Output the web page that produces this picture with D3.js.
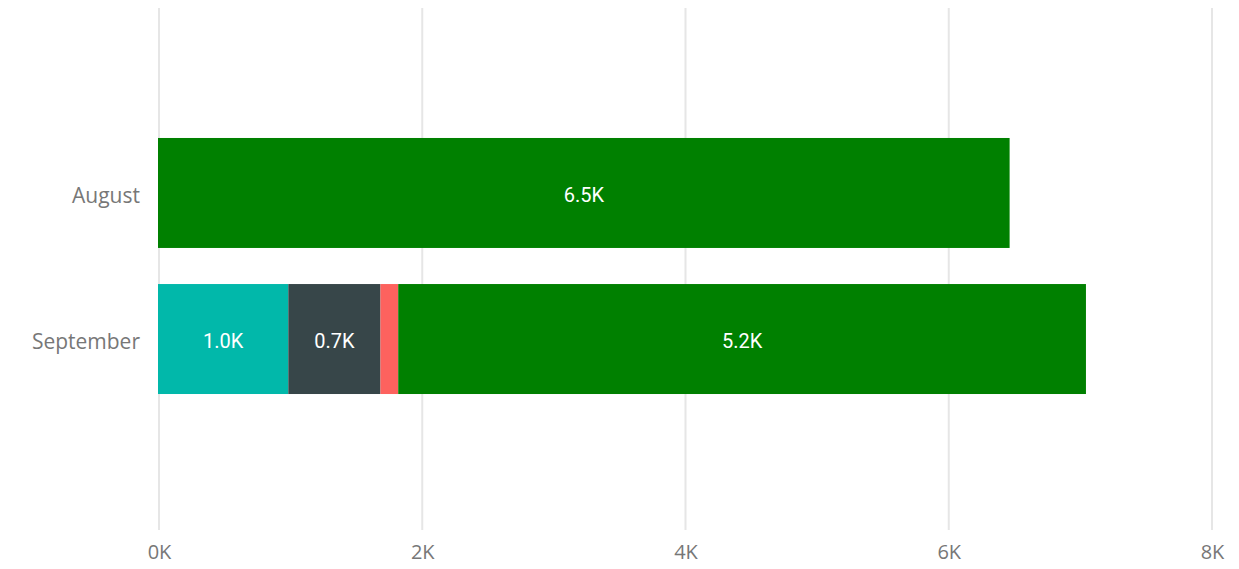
<!DOCTYPE html>
<meta charset="utf-8">
<head>
<style>
body { margin: 0; background: #fff; }
.tick text { font-family: "Open Sans", "Segoe UI", sans-serif; }
</style>
</head>
<script src="https://d3js.org/d3.v7.min.js"></script>
<div id="chart"></div>
<script>
// data
var months = ["August", "September"];
var seriesNames = ["Teal", "Slate", "Coral", "Green"];
var seriesColors = ["#01B8AA", "#374649", "#FD625E", "#008000"];
// values per series, same order as months
var teal  = [0, 0.99];
var slate = [0, 0.70];
var coral = [0, 0.135];
var green = [6.47, 5.225];
var xTicks = [0, 2, 4, 6, 8];

var W = 1239, H = 569;

var svg = d3.select("#chart").append("svg")
  .attr("width", W)
  .attr("height", H);

var x = d3.scaleLinear().domain([0, 8]).range([159, 1212]);
var y = d3.scaleBand().domain(months).range([8, 524])
  .paddingInner(0.247).paddingOuter(0.89);

// gridlines
svg.append("g").selectAll("line")
  .data(xTicks)
  .enter().append("line")
    .attr("x1", function(d) { return x(d); })
    .attr("x2", function(d) { return x(d); })
    .attr("y1", 8)
    .attr("y2", 530)
    .attr("stroke", "#e6e6e6")
    .attr("stroke-width", 2);

// x axis labels
var xAxis = svg.append("g")
  .attr("transform", "translate(0,542)")
  .call(d3.axisBottom(x).tickValues(xTicks).tickSize(0).tickFormat(function(d) { return d + "K"; }));
xAxis.select(".domain").remove();
xAxis.selectAll("text")
  .attr("fill", "#777")
  .style("font-size", "20px");

// y axis labels
var yAxis = svg.append("g")
  .attr("transform", "translate(150,3)")
  .call(d3.axisLeft(y).tickSize(0).tickPadding(10));
yAxis.select(".domain").remove();
yAxis.selectAll("text")
  .attr("fill", "#777")
  .attr("dy", "0.35em")
  .style("font-size", "21px");

// stacked bars
var table = months.map(function(m, i) {
  return { month: m, Teal: teal[i], Slate: slate[i], Coral: coral[i], Green: green[i] };
});
var stack = d3.stack().keys(seriesNames)(table);

var layers = svg.append("g").selectAll("g")
  .data(stack)
  .enter().append("g")
    .attr("fill", function(d, i) { return seriesColors[i]; });

layers.selectAll("rect")
  .data(function(d) { return d; })
  .enter().append("rect")
    .attr("x", function(d) { return x(d[0]) - 1; })
    .attr("y", function(d) { return y(d.data.month); })
    .attr("width", function(d) { return x(d[1]) - x(d[0]); })
    .attr("height", y.bandwidth());

// data labels (skip segments too narrow)
layers.selectAll("text")
  .data(function(d) { return d.filter(function(s) { return x(s[1]) - x(s[0]) > 50; }); })
  .enter().append("text")
    .attr("x", function(d) { return (x(d[0]) + x(d[1])) / 2 - 1; })
    .attr("y", function(d) { return y(d.data.month) + y.bandwidth() / 2 + 2; })
    .attr("dy", "0.35em")
    .attr("text-anchor", "middle")
    .attr("fill", "#fff")
    .style("font-family", "Roboto, sans-serif")
    .style("font-size", "20px")
    .text(function(d) { return (d[1] - d[0]).toFixed(1) + "K"; });
</script>
